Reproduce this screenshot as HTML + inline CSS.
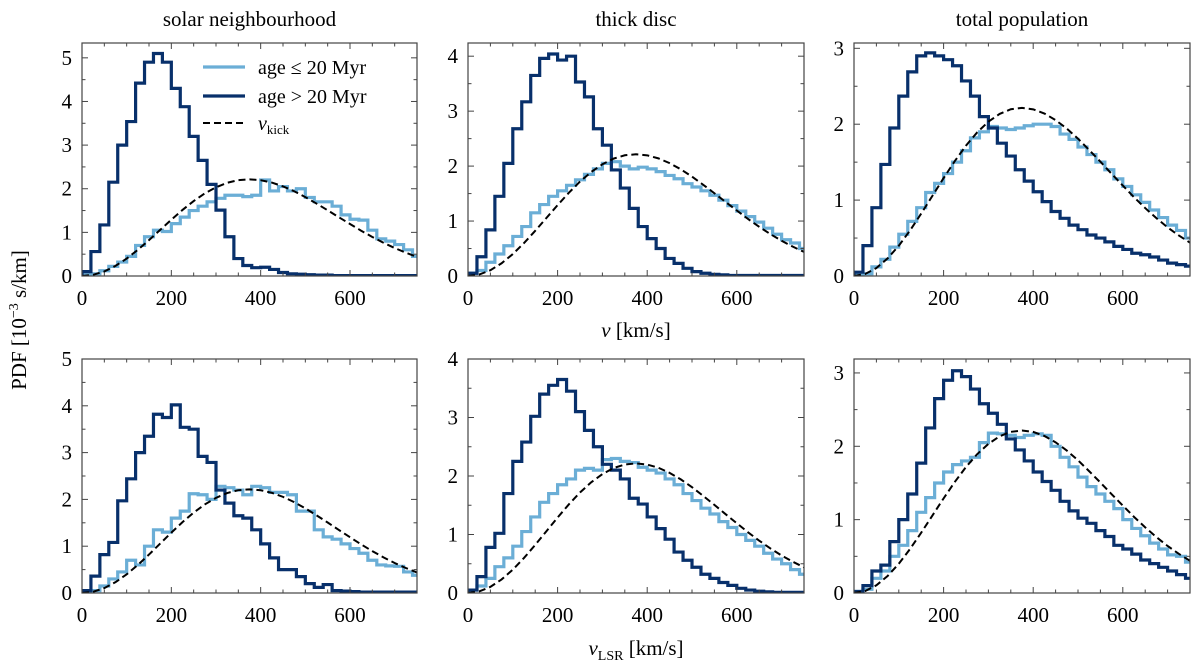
<!DOCTYPE html>
<html><head><meta charset="utf-8">
<style>
html,body{margin:0;padding:0;background:#fff;}
svg{display:block;font-family:"Liberation Serif",serif;}
</style></head>
<body>
<svg id="fig" width="1200" height="667" viewBox="0 0 1200 667" xmlns="http://www.w3.org/2000/svg">
<text x="0" y="0" transform="translate(26,320) rotate(-90)" text-anchor="middle" font-size="21">PDF  [10<tspan dy="-8" font-size="14">−3</tspan><tspan dy="8"> s/km]</tspan></text>
<text x="636" y="337" text-anchor="middle" font-size="21"><tspan font-style="italic">v</tspan>  [km/s]</text>
<text x="636" y="655" text-anchor="middle" font-size="21"><tspan font-style="italic">v</tspan><tspan font-size="14" dy="5">LSR</tspan><tspan dy="-5">  [km/s]</tspan></text>
</svg>
<script>
const bins = [0,20,40,60,80,100,120,140,160,180,200,220,240,260,280,300,320,340,360,380,400,420,440,460,480,500,520,540,560,580,600,620,640,660,680,700,720,740];
const binWidth = 20;
const kickV = [0,25,50,75,100,125,150,175,200,225,250,275,300,325,350,375,400,425,450,475,500,525,550,575,600,625,650,675,700,725,750];
const kickPdf = [0,0.027,0.105,0.232,0.399,0.599,0.822,1.056,1.290,1.514,1.718,1.893,2.033,2.136,2.197,2.215,2.196,2.141,2.054,1.942,1.809,1.660,1.506,1.347,1.192,1.038,0.895,0.762,0.641,0.534,0.439];
const titles = ["solar neighbourhood","thick disc","total population"];
const xTicks = [0,200,400,600];
const yTicksTop = [[0,1,2,3,4,5],[0,1,2,3,4],[0,1,2,3]];
const yTicksBot = [[0,1,2,3,4,5],[0,1,2,3,4],[0,1,2,3]];
const yMaxTop = [5.34,4.24,3.07];
const yMaxBot = [5,4,3.19];
const youngSNtop = [0.03,0.05,0.12,0.22,0.32,0.45,0.7,0.9,1.05,1.02,1.2,1.35,1.5,1.6,1.7,1.78,1.85,1.85,1.82,1.85,2.2,1.95,2.05,1.95,2.0,1.8,1.7,1.7,1.6,1.4,1.3,1.28,1.05,0.85,0.8,0.72,0.6,0.45];
const oldSNtop = [0.1,0.56,1.17,2.15,3.0,3.54,4.42,4.9,5.1,4.9,4.3,3.88,3.2,2.65,2.1,1.51,0.9,0.4,0.24,0.19,0.2,0.15,0.08,0.05,0.04,0.03,0.02,0.02,0.01,0.01,0.01,0.01,0.01,0.01,0.01,0.01,0.01,0.01];
const youngTDtop = [0.05,0.1,0.25,0.4,0.55,0.72,0.9,1.15,1.3,1.45,1.55,1.65,1.75,1.85,1.95,2.05,2.08,2.0,1.95,1.98,1.95,1.9,1.83,1.77,1.68,1.62,1.55,1.47,1.38,1.28,1.18,1.08,0.98,0.87,0.76,0.66,0.6,0.5];
const oldTDtop = [0.05,0.35,0.84,1.45,2.05,2.68,3.17,3.65,3.96,4.04,3.93,4.0,3.53,3.26,2.68,2.38,1.93,1.6,1.23,0.9,0.68,0.5,0.32,0.23,0.14,0.08,0.05,0.03,0.02,0.01,0.01,0.01,0.01,0.01,0.01,0.01,0.01,0.01];
const youngTPtop = [0.02,0.03,0.12,0.22,0.38,0.55,0.72,0.9,1.1,1.22,1.35,1.5,1.65,1.82,1.9,1.97,1.95,1.93,1.95,1.98,2.0,2.0,1.97,1.87,1.8,1.7,1.6,1.5,1.4,1.28,1.18,1.07,0.97,0.87,0.77,0.67,0.6,0.5];
const oldTPtop = [0.05,0.4,0.9,1.47,1.95,2.37,2.69,2.9,2.94,2.9,2.85,2.77,2.57,2.37,2.1,1.95,1.75,1.58,1.4,1.25,1.11,0.98,0.85,0.76,0.67,0.61,0.54,0.5,0.45,0.39,0.35,0.3,0.28,0.25,0.21,0.17,0.15,0.13];
const youngSNbot = [0.02,0.05,0.15,0.3,0.45,0.7,0.6,1.0,1.35,1.3,1.6,1.75,2.12,2.1,2.0,2.28,2.25,2.2,2.1,2.28,2.25,2.15,2.15,2.1,1.75,1.75,1.35,1.2,1.15,1.05,0.95,0.85,0.7,0.6,0.58,0.57,0.45,0.38];
const oldSNbot = [0.05,0.36,0.82,1.08,1.97,2.44,3.0,3.35,3.82,3.75,4.02,3.54,3.5,2.92,2.79,2.2,1.92,1.65,1.6,1.35,1.05,0.75,0.5,0.5,0.35,0.2,0.12,0.18,0.05,0.04,0.03,0.02,0.02,0.02,0.02,0.02,0.02,0.02];
const youngTDbot = [0.05,0.12,0.25,0.45,0.6,0.8,1.05,1.3,1.55,1.7,1.85,1.95,2.1,2.13,2.1,2.28,2.3,2.25,2.23,2.15,2.1,2.05,1.95,1.85,1.7,1.58,1.45,1.35,1.22,1.12,1.0,0.9,0.8,0.68,0.58,0.5,0.4,0.32];
const oldTDbot = [0.05,0.28,0.78,1.02,1.7,2.25,2.58,3.02,3.4,3.55,3.65,3.45,3.1,2.78,2.5,2.2,2.1,1.95,1.62,1.52,1.3,1.1,0.92,0.7,0.56,0.44,0.32,0.25,0.18,0.13,0.08,0.05,0.03,0.02,0.01,0.01,0.01,0.01];
const youngTPbot = [0.02,0.05,0.2,0.3,0.5,0.65,0.85,1.1,1.3,1.5,1.65,1.75,1.8,1.85,2.05,2.18,2.17,2.15,2.12,2.15,2.17,2.15,2.0,1.85,1.72,1.58,1.45,1.35,1.25,1.15,1.0,0.88,0.78,0.68,0.6,0.52,0.5,0.42];
const oldTPbot = [0.02,0.1,0.3,0.38,0.7,1.0,1.35,1.77,2.25,2.65,2.9,3.03,2.95,2.78,2.58,2.45,2.3,2.1,1.95,1.8,1.65,1.52,1.4,1.25,1.12,1.02,0.95,0.85,0.77,0.65,0.6,0.53,0.45,0.4,0.35,0.3,0.25,0.2];

const NS="http://www.w3.org/2000/svg";
const svg=document.getElementById('fig');
function mk(tag,attrs,parent){const e=document.createElementNS(NS,tag);for(const k in attrs)e.setAttribute(k,attrs[k]);(parent||svg).appendChild(e);return e;}
const XMAX=750;
const colX=[[82,417],[468,804],[854,1190]];
const rowY=[[43,276],[359,593]];
const LIGHT="#6baed6", DARK="#08306b";
const data=[[[youngSNtop,oldSNtop],[youngTDtop,oldTDtop],[youngTPtop,oldTPtop]],[[youngSNbot,oldSNbot],[youngTDbot,oldTDbot],[youngTPbot,oldTPbot]]];

for(let r=0;r<2;r++)for(let c=0;c<3;c++){
  const [x0,x1]=colX[c],[y0,y1]=rowY[r];
  const ymax=r===0?yMaxTop[c]:yMaxBot[c];
  const yt=r===0?yTicksTop[c]:yTicksBot[c];
  const sx=v=>x0+(v/XMAX)*(x1-x0);
  const sy=v=>y1-(v/ymax)*(y1-y0);
  const g=mk('g',{});
  
  
  const cid='clip'+r+c;
  const cp=mk('clipPath',{id:cid},g);mk('rect',{x:x0,y:y0,width:x1-x0,height:y1-y0},cp);
  if(r===0){
    const t=mk('text',{x:(x0+x1)/2,y:26,'text-anchor':'middle','font-size':21},g);
    
    
    t.textContent=titles[c];
  }
  const pg=mk('g',{'clip-path':'url(#'+cid+')'},g);
  let kd='';kickV.forEach((v,i)=>{kd+=(i?'L':'M')+sx(v).toFixed(2)+','+sy(kickPdf[i]).toFixed(2);});
  const series=data[r][c];
  [[series[0],LIGHT,'hist-young'],[series[1],DARK,'hist-old']].forEach(([vals,col,nm])=>{
    let d='M'+sx(bins[0])+','+sy(0);
    vals.forEach((v,i)=>{d+='V'+sy(v).toFixed(2)+'H'+sx(bins[i]+binWidth).toFixed(2);});
    d+='V'+sy(0);
    const p=mk('path',{d:d,fill:'none',stroke:col,'stroke-width':3.2,'stroke-linejoin':'miter'},pg);
    
    
  });
  const kp=mk('path',{d:kd,fill:'none',stroke:'#000','stroke-width':2,'stroke-dasharray':'7,4'},pg);
  
  
  const fr=mk('rect',{x:x0,y:y0,width:x1-x0,height:y1-y0,fill:'none',stroke:'#444','stroke-width':1.2},g);
  
  
  for(let v=0;v<=XMAX;v+=50){
    const major=v%200===0, L=major?6:3.5, X=sx(v);
    mk('line',{x1:X,x2:X,y1:y1,y2:y1-L,stroke:'#444','stroke-width':1},g);
    mk('line',{x1:X,x2:X,y1:y0,y2:y0+L,stroke:'#444','stroke-width':1},g);
  }
  xTicks.forEach(v=>{
    const t=mk('text',{x:sx(v),y:y1+29,'text-anchor':'middle','font-size':21},g);
    
    
    t.textContent=v;
  });
  for(let v=0;v<=ymax+1e-6;v+=0.5){
    const major=Math.abs(v-Math.round(v))<1e-6, L=major?6:3.5, Y=sy(v);
    mk('line',{x1:x0,x2:x0+L,y1:Y,y2:Y,stroke:'#444','stroke-width':1},g);
    mk('line',{x1:x1,x2:x1-L,y1:Y,y2:Y,stroke:'#444','stroke-width':1},g);
  }
  yt.forEach(v=>{
    const t=mk('text',{x:x0-10,y:sy(v)+7,'text-anchor':'end','font-size':21},g);
    
    
    t.textContent=v;
  });
}
const lg=mk('g',{});


[[LIGHT,'age ≤ 20 Myr',67,null],[DARK,'age > 20 Myr',96,null],['#000','',123,'7,4']].forEach(([col,label,y,dash],i)=>{
  const a={x1:203,x2:245,y1:y,y2:y,stroke:col,'stroke-width':dash?2:3.2};
  if(dash)a['stroke-dasharray']=dash;
  mk('line',a,lg);
  const t=mk('text',{x:258,y:y+7,'font-size':20},lg);
  
  
  if(label){t.textContent=label;}
  else{t.innerHTML='<tspan font-style="italic">v</tspan><tspan font-size="13" dy="4">kick</tspan>';}
});
</script>
</body></html>
